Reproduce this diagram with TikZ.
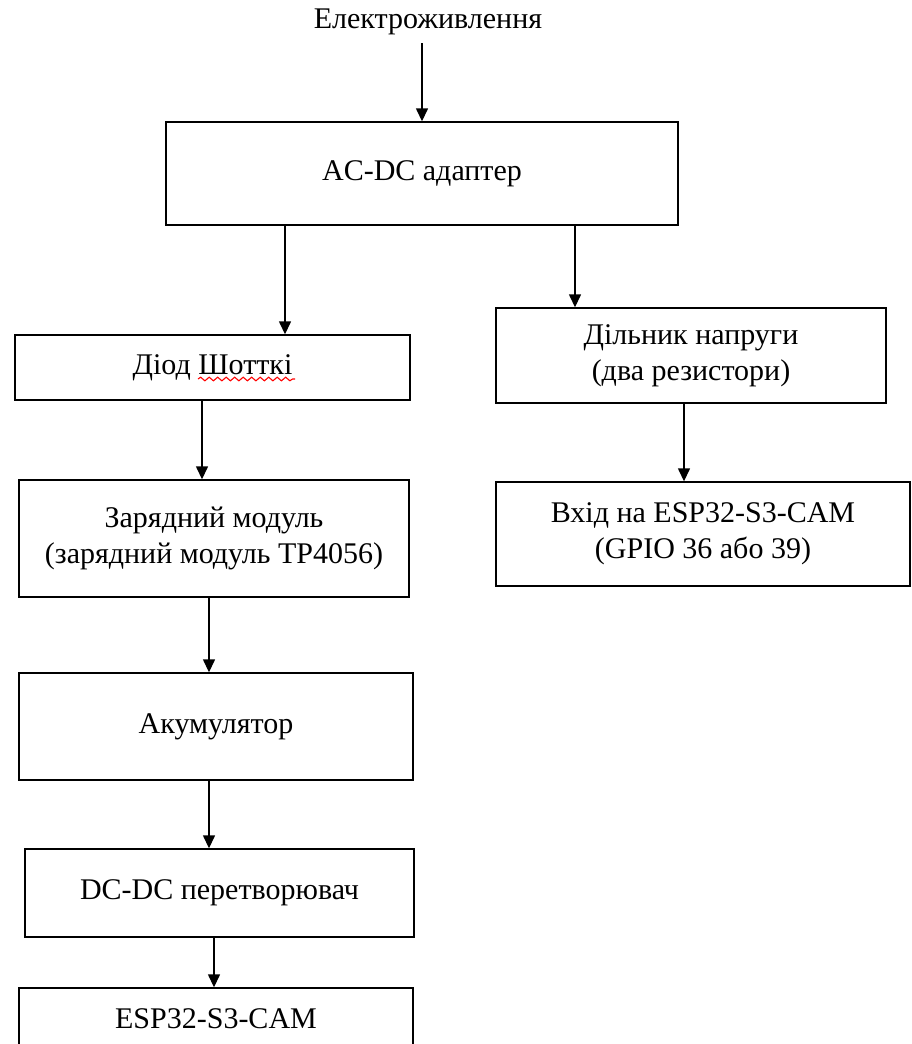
\documentclass[tikz,border=0pt]{standalone}
\usepackage{fontspec}
\setmainfont{Liberation Serif}
\usetikzlibrary{arrows.meta,decorations.pathmorphing}
\begin{document}
\begin{tikzpicture}[x=1pt,y=-1pt,
  box/.style={draw, line width=1.4pt, align=center, inner sep=0pt, font=\fontsize{30}{36}\selectfont},
  lbl/.style={align=center, inner sep=0pt, font=\fontsize{30}{36}\selectfont},
  arr/.style={-{Triangle[length=13pt,width=12pt]}, line width=1.4pt},
  squiggle/.style={red, line width=1.1pt, decorate, decoration={snake, amplitude=1.8pt, segment length=8.5pt}}]
\fill[white] (0,0) rectangle (912,1044);
\clip (0,0) rectangle (912,1044);
% nodes
\node[lbl] (elec) at (428,22) {Електроживлення};
\node[box, minimum width=512pt, minimum height=103pt] (acdc) at (422,173.5) {AC-DC адаптер};
\node[box, minimum width=395pt, minimum height=65pt] (diode) at (212.5,367.5) {Діод Шотткі};
\node[box, minimum width=390pt, minimum height=95pt] (divider) at (691,355.5) {Дільник напруги\\(два резистори)};
\node[box, minimum width=390pt, minimum height=117pt] (charger) at (214,538.5) {Зарядний модуль\\(зарядний модуль TP4056)};
\node[box, minimum width=414pt, minimum height=104pt] (input) at (703,534) {Вхід на ESP32-S3-CAM\\(GPIO 36 або 39)};
\node[box, minimum width=394pt, minimum height=107pt] (akum) at (216,726.5) {Акумулятор};
\node[box, minimum width=389pt, minimum height=88pt] (dcdc) at (219.5,893) {DC-DC перетворювач};
\node[box, minimum width=394pt, minimum height=62pt] (esp) at (216,1019) {ESP32-S3-CAM};
% spell-check squiggle
\draw[squiggle] (198,379) -- (295,379);
% connectors
\draw[arr] (acdc.north |- 0,43) -- (acdc.north);
\draw[arr] (285,0 |- acdc.south) -- (285,0 |- diode.north);
\draw[arr] (575,0 |- acdc.south) -- (575,0 |- divider.north);
\draw[arr] (202,0 |- diode.south) -- (202,0 |- charger.north);
\draw[arr] (684,0 |- divider.south) -- (684,0 |- input.north);
\draw[arr] (209,0 |- charger.south) -- (209,0 |- akum.north);
\draw[arr] (209,0 |- akum.south) -- (209,0 |- dcdc.north);
\draw[arr] (214,0 |- dcdc.south) -- (214,0 |- esp.north);
\end{tikzpicture}
\end{document}
